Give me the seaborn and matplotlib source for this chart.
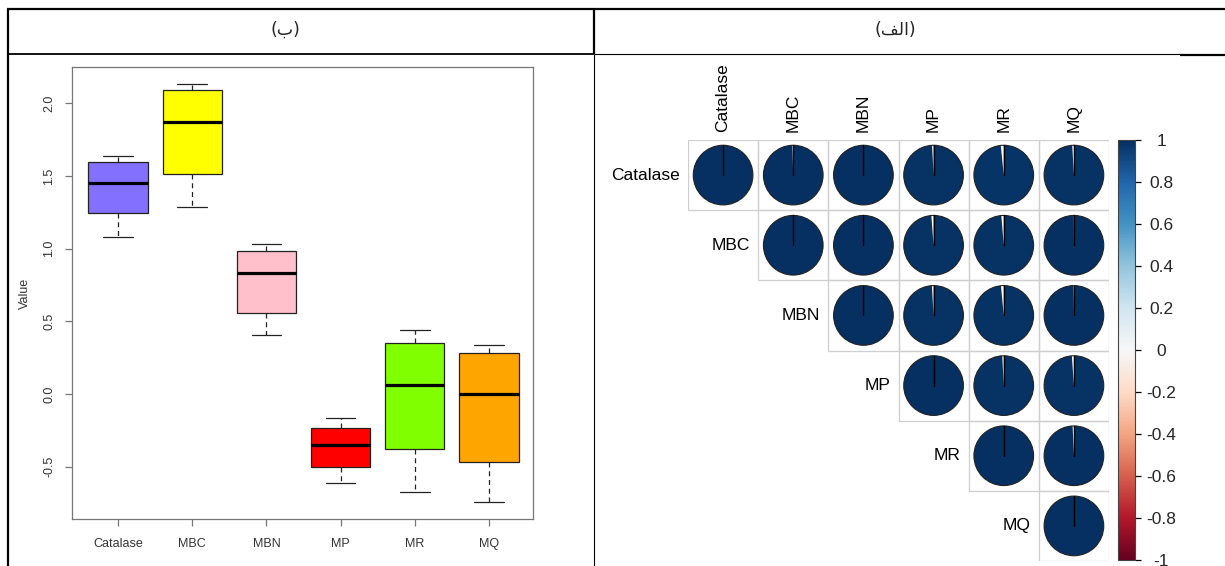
import numpy as np
import pandas as pd
import matplotlib
matplotlib.use('Agg')
import matplotlib.pyplot as plt
from matplotlib.lines import Line2D
from matplotlib.patches import Wedge, Circle, Rectangle
import seaborn as sns

# Datos del boxplot (min, Q1, mediana, Q3, max)
variables = ['Catalase', 'MBC', 'MBN', 'MP', 'MR', 'MQ']
catalase = [1.078, 1.243, 1.452, 1.596, 1.640]
mbc = [1.283, 1.516, 1.874, 2.092, 2.135]
mbn = [0.405, 0.560, 0.830, 0.980, 1.032]
mp = [-0.614, -0.504, -0.353, -0.236, -0.163]
mr = [-0.676, -0.376, 0.062, 0.349, 0.440]
mq = [-0.743, -0.470, 0.000, 0.282, 0.337]
box_colors = ['#8470FF', '#FFFF00', '#FFC0CB', '#FF0000', '#7FFF00', '#FFA500']

# Matriz de correlacion (triangulo superior en el grafico)
corr = [
    [1.000, 0.995, 0.999, 0.992, 0.984, 0.991],
    [0.995, 1.000, 0.998, 0.988, 0.987, 0.999],
    [0.999, 0.998, 1.000, 0.991, 0.985, 0.998],
    [0.992, 0.988, 0.991, 1.000, 0.992, 0.989],
    [0.984, 0.987, 0.985, 0.992, 1.000, 0.993],
    [0.991, 0.999, 0.998, 0.989, 0.993, 1.000],
]
cbar_ticks = [-1, -0.8, -0.6, -0.4, -0.2, 0, 0.2, 0.4, 0.6, 0.8, 1]
cbar_labels = ['-1', '-0.8', '-0.6', '-0.4', '-0.2', '0', '0.2', '0.4', '0.6', '0.8', '1']

# Titulos de la tabla (arabe en orden visual)
title_left = '(\u0628)'
title_right = '(\uFED2\uFEDF\u0627)'

sns.set_theme(style='ticks')
plt.rcParams['font.family'] = ['Liberation Sans', 'DejaVu Sans']

W, H = 1225, 566
fig = plt.figure(figsize=(W / 100, H / 100), dpi=100)


def fx(x):
    return x / W


def fy(y):
    return 1 - y / H


def linea(x0, y0, x1, y1, lw):
    fig.add_artist(Line2D([fx(x0), fx(x1)], [fy(y0), fy(y1)], transform=fig.transFigure,
                          color='black', lw=lw, solid_capstyle='butt'))


# Bordes de la tabla
linea(7, 9, 1225, 9, 1.6)
linea(8, 9, 8, 566, 1.6)
linea(594, 9, 594, 54, 1.6)
linea(594, 54, 594, 566, 0.8)
linea(8, 54.3, 594, 54.3, 1.3)
linea(594, 54, 1180, 54, 0.8)
linea(1180, 54.8, 1225, 54.8, 1.6)

fig.text(fx(285), fy(30), title_left, ha='center', va='center', fontsize=12.5, family='DejaVu Sans')
fig.text(fx(895), fy(30), title_right, ha='center', va='center', fontsize=12.5, family='DejaVu Sans')

# ---------------- Boxplot ----------------
df = pd.DataFrame({
    'var': np.repeat(variables, 5),
    'Value': catalase + mbc + mbn + mp + mr + mq,
})

ax1 = fig.add_axes([fx(72), fy(519), (533 - 72) / W, (519 - 67) / H])
sns.boxplot(data=df, x='var', y='Value', hue='var', palette=box_colors, legend=False,
            saturation=1, width=0.8, linecolor='#222222', linewidth=0.9, showfliers=False, ax=ax1,
            medianprops=dict(color='black', linewidth=2.3),
            whiskerprops=dict(linestyle=(0, (4, 3))))
ax1.set_xlim(-0.62, 5.593)
ax1.set_ylim(-0.86, 2.249)
ax1.set_yticks([-0.5, 0.0, 0.5, 1.0, 1.5, 2.0])
ax1.set_yticklabels(['-0.5', '0.0', '0.5', '1.0', '1.5', '2.0'], rotation=90, va='center')
ax1.set_xlabel('')
ax1.set_ylabel('Value', fontsize=9, color='#333333', labelpad=9)
ax1.tick_params(axis='both', labelsize=9, labelcolor='#333333', color='#777777',
                length=5, width=0.9)
ax1.tick_params(axis='x', pad=9)
ax1.tick_params(axis='y', pad=7)
for s in ax1.spines.values():
    s.set_visible(True)
    s.set_color('#777777')
    s.set_linewidth(0.9)

# ---------------- Corrplot (tortas) ----------------
cmap = plt.get_cmap('RdBu')
n = len(variables)
ax2 = fig.add_axes([fx(688), fy(561), 421 / W, 421 / H])
ax2.set_xlim(-0.5, n - 0.5)
ax2.set_ylim(-0.5, n - 0.5)
ax2.set_axis_off()
rad = 0.425
for i in range(n):
    yc = n - 1 - i
    for j in range(i, n):
        v = corr[i][j]
        ax2.add_patch(Rectangle((j - 0.5, yc - 0.5), 1, 1, fill=False, edgecolor='#CFCFCF', lw=0.9))
        ax2.add_patch(Circle((j, yc), rad, facecolor='white', edgecolor='none'))
        ax2.add_patch(Wedge((j, yc), rad, 90 - 360 * v, 90,
                            facecolor=cmap((v + 1) / 2), edgecolor='none'))
        ax2.add_patch(Circle((j, yc), rad, fill=False, edgecolor='#222222', lw=0.8))
        ax2.plot([j, j], [yc, yc + rad], color='black', lw=1.0)

off = 0.115
for k, name in enumerate(variables):
    ax2.text(k, n - 0.5 + off, name, rotation=90, ha='center', va='bottom', fontsize=12.5, color='black')
    ax2.text(k - 0.5 - off, n - 1 - k, name, ha='right', va='center', fontsize=12.5, color='black')

# Barra de color
cax = fig.add_axes([fx(1118), fy(560), 17 / W, 420 / H])
sm = plt.cm.ScalarMappable(cmap=cmap, norm=plt.Normalize(-1, 1))
cb = fig.colorbar(sm, cax=cax, ticks=cbar_ticks)
cb.ax.set_yticklabels(cbar_labels, ha='center')
cb.ax.tick_params(length=4, width=0.9, color='black', pad=15, labelsize=12.5)
cb.outline.set_edgecolor('#444444')
cb.outline.set_linewidth(0.8)

fig.savefig('out.png', dpi=100)
